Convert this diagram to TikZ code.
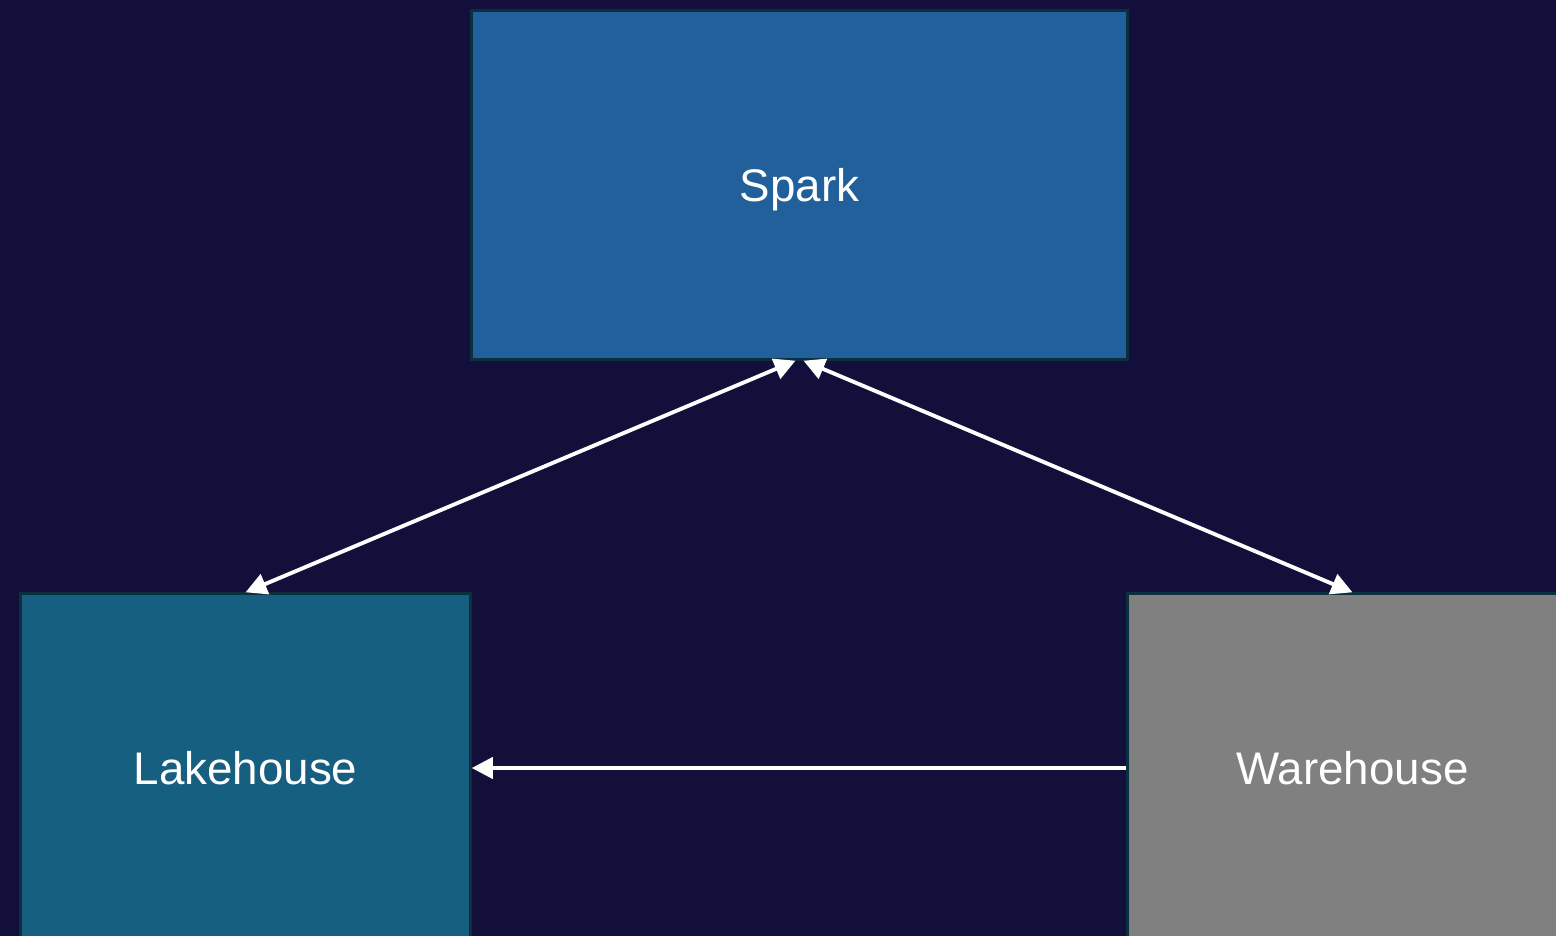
\documentclass[tikz,border=0pt]{standalone}
\usepackage{fontspec}
\setmainfont{Liberation Sans}
\definecolor{bgnavy}{HTML}{12103A}
\definecolor{sparkblue}{HTML}{22609B}
\definecolor{lakeblue}{HTML}{175F80}
\definecolor{wareGray}{HTML}{808080}
\definecolor{edgeteal}{HTML}{0B2F3F}
\usetikzlibrary{arrows.meta}
\begin{document}
\begin{tikzpicture}[x=0.01cm, y=-0.01cm, font=\fontsize{13}{16}\selectfont,
      store/.style={rectangle, draw=edgeteal, line width=0.9pt, text=white,
                    text depth=0pt, minimum width=6.55cm, minimum height=3.48cm,
                    inner sep=0pt},
      link/.style={white, line width=1.1pt, -{Triangle[length=6pt, width=6pt]}},
    ]

    % Background
    \fill[bgnavy] (0, 0) rectangle (1556, 936);
    \useasboundingbox (0, 0) rectangle (1556, 936);

    \begin{scope}
      \clip (0, 0) rectangle (1556, 936);

      % Boxes
      \node[store, fill=sparkblue] (spark) at (799.5, 185) {Spark};
      \node[store, fill=lakeblue, minimum width=4.49cm] (lakehouse) at (245.5, 768) {Lakehouse};
      \node[store, fill=wareGray, minimum width=4.49cm] (warehouse) at (1352.5, 768) {Warehouse};

      % Connections
      \draw[link, {Triangle[length=6pt, width=6pt]}-{Triangle[length=6pt, width=6pt]}]
        ([xshift=-0.04cm]spark.south) -- (lakehouse.north);
      \draw[link, {Triangle[length=6pt, width=6pt]}-{Triangle[length=6pt, width=6pt]}]
        ([xshift=0.04cm]spark.south) -- (warehouse.north);
      \draw[link] (warehouse.west) -- (lakehouse.east);
    \end{scope}

  \end{tikzpicture}
\end{document}
